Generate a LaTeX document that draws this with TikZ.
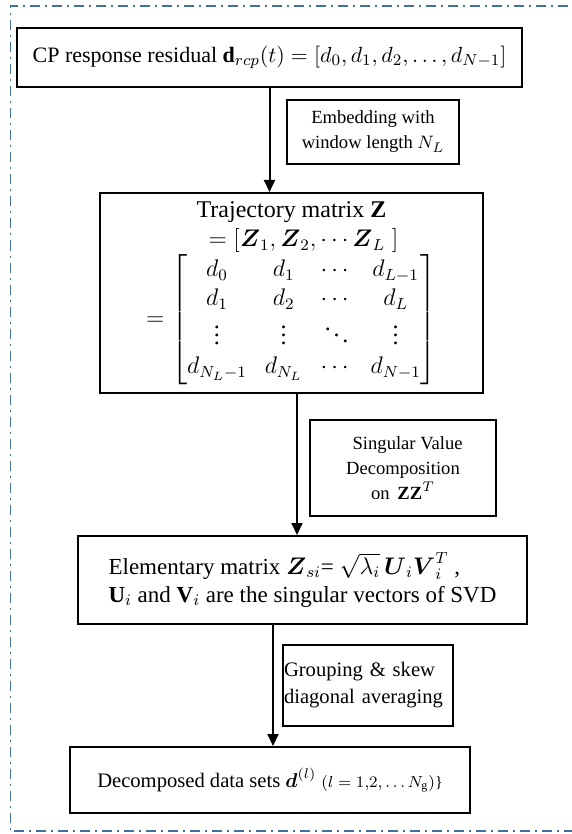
\documentclass[tikz,border=0pt]{standalone}
\usepackage{amsmath,amssymb}
\usepackage{fontspec}
\setmainfont{Liberation Serif}
\usepackage{tikz}
\usepackage{xcolor}
\usetikzlibrary{arrows.meta}
\definecolor{framecol}{RGB}{65,113,156}

\begin{document}
\begin{tikzpicture}[x=0.5pt, y=-0.5pt,
    >={Triangle[length=6pt, width=5.5pt]},
    box/.style={rectangle, draw, line width=1pt, align=center, inner sep=2pt},
    note/.style={rectangle, draw, line width=1pt, align=center, inner sep=2pt, font=\fontsize{9.3}{12.5}\selectfont},
    flow/.style={line width=1pt}]

    \useasboundingbox (0,0) rectangle (572,834);
    \draw[framecol, line width=0.8pt, dash pattern=on 5pt off 2.5pt on 1pt off 2.5pt]
        (590,6) -- (10.5,6) -- (10.5,831) -- (590,831);

    \node[box, minimum width=252.5pt, minimum height=29.5pt, font=\fontsize{11}{13}\selectfont] (resid) at (269.5,57.5)
        {CP response residual $\mathbf{d}_{rcp}(t) = [d_0, d_1, d_2, \ldots, d_{N-1}]$};
    \node[note, minimum width=86pt, minimum height=32pt] (embed) at (373,132)
        {Embedding with\\window length $N_L$};
    \node[box, minimum width=191.5pt, minimum height=100pt, font=\fontsize{12}{14.5}\selectfont] (traj) at (291.5,293)
        {Trajectory matrix $\mathbf{Z}$\\
         \quad$=[\boldsymbol{Z}_1,\boldsymbol{Z}_2,\cdots\boldsymbol{Z}_L\;]$\\
         $=\setlength{\arraycolsep}{4.5pt}\begin{bmatrix}
            d_0 & d_1 & \cdots & d_{L-1}\\
            d_1 & d_2 & \cdots & d_L\\
            \vdots & \vdots & \ddots & \vdots\\
            d_{N_L-1} & d_{N_L} & \cdots & d_{N-1}
         \end{bmatrix}$};
    \node[note, minimum width=93pt, minimum height=48pt] (svd) at (403,468)
        {\ \ Singular Value\\Decomposition\ \ \\on\, $\mathbf{ZZ}^T$\hspace{1.6em}};
    \node[box, align=left, minimum width=224.5pt, minimum height=44pt, font=\fontsize{11.5}{14}\selectfont] (elem) at (302.5,580)
        {Elementary matrix $\boldsymbol{Z}_{si}$= $\sqrt{\lambda_i}\,\boldsymbol{U}_i\boldsymbol{V}_i^T$ ,\\
         $\mathbf{U}_i$ and $\mathbf{V}_i$ are the singular vectors of SVD};
    \node[note, align=left, text width=84pt, inner xsep=0.5pt, minimum height=40.5pt, font=\fontsize{10.3}{13.5}\selectfont] (group) at (368,685.5)
        {Grouping \& skew\\diagonal averaging};
    \node[box, minimum width=200pt, minimum height=33pt, font=\fontsize{10.3}{12.5}\selectfont] (decomp) at (270,780)
        {Decomposed data sets $\boldsymbol{d}^{(l)}$ {\footnotesize$(l = 1{,}2, \ldots N_{\mathrm{g}})$\}}};

    \draw[flow, ->] (resid.south) -- (resid.south |- traj.north);
    \draw[flow, ->] ([xshift=2.75pt]traj.south) -- ([xshift=2.75pt]traj.south |- elem.north);
    \draw[flow, ->] ([xshift=1.5pt]decomp.north |- elem.south) -- ([xshift=1.5pt]decomp.north);
\end{tikzpicture}
\end{document}
